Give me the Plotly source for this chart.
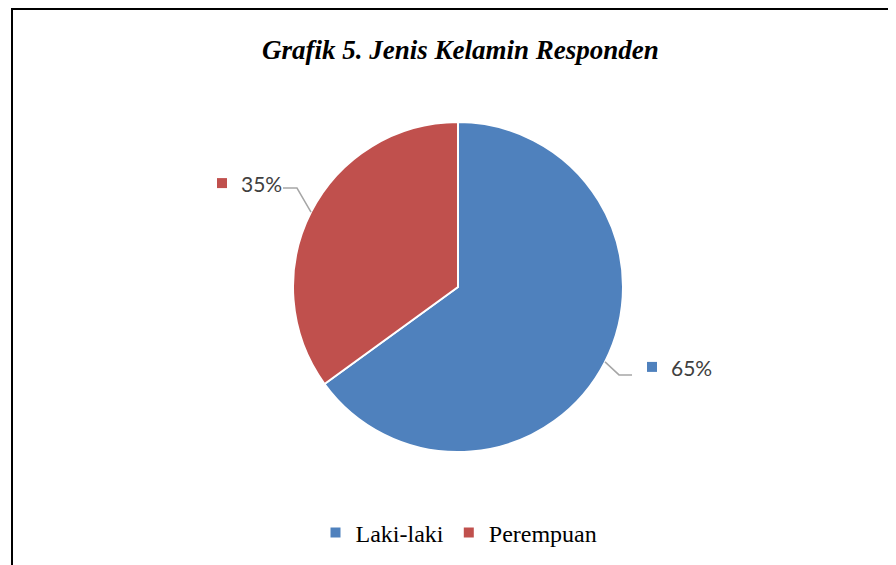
import math
import plotly.graph_objects as go

labels = ["Laki-laki", "Perempuan"]
values = [65, 35]
colors = ["#4F81BD", "#C0504D"]
title_text = "Grafik 5. Jenis Kelamin Responden"

W, H = 896, 565
OFF = 8  # default page body margin
CX, CY, R = 458, 287, 165  # pie centre / radius in screen px (layout)


def px(x):
    return (x - OFF) / W


def py(y):
    return 1 - (y - OFF) / H


fig = go.Figure()
fig.add_trace(go.Pie(
    labels=labels, values=values, sort=False, direction="clockwise", rotation=0,
    marker=dict(colors=colors, line=dict(color="white", width=2)),
    textinfo="none", hoverinfo="label+percent",
    domain=dict(x=[px(CX - R), px(CX + R)], y=[py(CY + R), py(CY - R)]),
))

shapes = []
annotations = []
total = sum(values)
start = 0.0
lab_font = dict(family="Lato, Open Sans", size=21, color="#404040")
for lab, val, col in zip(labels, values, colors):
    frac = val / total
    mid = (start + frac / 2) * 2 * math.pi
    start += frac
    ex = CX + R * math.sin(mid)
    ey = CY - R * math.cos(mid)
    right = math.sin(mid) > 0
    pct = f"{round(frac * 100)}%"
    if right:
        bx, by = ex + 14, ey + 13
        hx = bx + 13
        sq = hx + 20
        tx = sq + 17
        shapes.append(dict(type="rect", xref="paper", yref="paper",
                           x0=px(sq - 5), x1=px(sq + 5), y0=py(by - 8 + 5), y1=py(by - 8 - 5),
                           fillcolor=col, line=dict(width=0)))
        annotations.append(dict(x=px(tx), y=py(by - 7), xref="paper", yref="paper",
                                text=pct, showarrow=False, xanchor="left", yanchor="middle",
                                font=lab_font))
    else:
        bx, by = ex - 14, ey - 24
        hx = bx - 14
        tx = hx + 1
        annotations.append(dict(x=px(tx), y=py(by - 5), xref="paper", yref="paper",
                                text=pct, showarrow=False, xanchor="right", yanchor="middle",
                                font=lab_font))
        shapes.append(dict(type="rect", xref="paper", yref="paper",
                           x0=px(tx - 67), x1=px(tx - 57), y0=py(by - 5 + 5), y1=py(by - 5 - 5),
                           fillcolor=col, line=dict(width=0)))
    shapes.append(dict(type="path", xref="paper", yref="paper",
                       path=f"M {px(ex)} {py(ey)} L {px(bx)} {py(by)} L {px(hx)} {py(by)}",
                       line=dict(color="#A6A6A6", width=1.5)))

# frame lines
shapes.append(dict(type="line", xref="paper", yref="paper", x0=px(11), x1=1, y0=py(9), y1=py(9),
                   line=dict(color="black", width=2)))
shapes.append(dict(type="line", xref="paper", yref="paper", x0=px(12), x1=px(12), y0=py(9), y1=0,
                   line=dict(color="black", width=2)))

annotations.append(dict(x=px(460), y=py(50), xref="paper", yref="paper",
                        text=f"<b><i>{title_text}</i></b>",
                        showarrow=False, xanchor="center", yanchor="middle",
                        font=dict(family="Liberation Serif", size=27, color="black")))

fig.update_layout(
    width=W, height=H, margin=dict(l=0, r=0, t=0, b=0),
    paper_bgcolor="white", plot_bgcolor="white",
    shapes=shapes, annotations=annotations,
    showlegend=True,
    legend=dict(orientation="h", x=px(459), xanchor="center", y=py(533), yanchor="middle",
                font=dict(family="Liberation Serif", size=24, color="black"), itemwidth=30,
                traceorder="normal"),
)

fig.write_html("out.html")
